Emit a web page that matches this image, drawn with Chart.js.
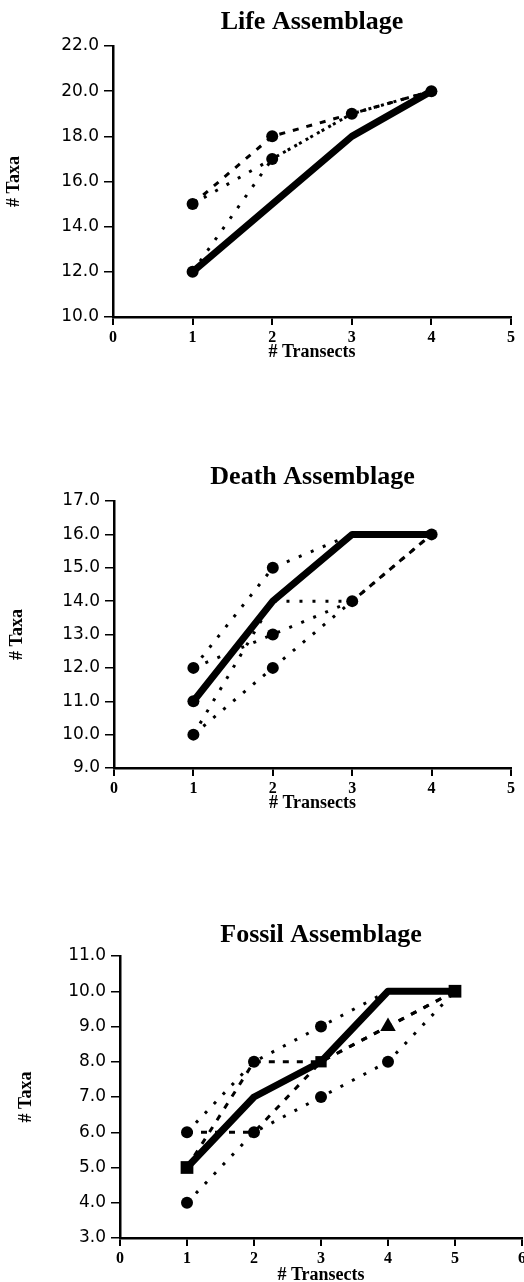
<!DOCTYPE html>
<html>
<head>
<meta charset="utf-8">
<script src="https://cdn.jsdelivr.net/npm/chart.js@4/dist/chart.umd.min.js"></script>
<style>
  html, body { margin: 0; padding: 0; background: #fff; overflow: hidden; }
  #wrap { position: relative; width: 524px; height: 1282px; }
  canvas { position: absolute; left: 0; }
</style>
</head>
<body>
<div id="wrap">
  <canvas id="lifeChart" width="524" height="367" style="top:0px"></canvas>
  <canvas id="deathChart" width="524" height="368" style="top:450px"></canvas>
  <canvas id="fossilChart" width="524" height="386" style="top:900px"></canvas>
</div>
<script>
// # transects (x values)
const lifeTransects = [1, 2, 3, 4];
const deathTransects = [1, 2, 3, 4];
const fossilTransects = [1, 2, 3, 4, 5];

// # taxa - life assemblage
const lifeMean = [12, 15, 18, 20];
const lifeRunA = [15, 18, 19, 20];
const lifeRunB = [12, 17, 19, 20];
const lifeRunC = [15, 17, 19, 20];

// # taxa - death assemblage
const deathMean = [11, 14, 16, 16];
const deathRunA = [12, 15, 16, 16];
const deathRunB = [10, 12, 14, 16];
const deathRunC = [12, 13, 14, 16];
const deathRunD = [10, 14, 14, 16];

// # taxa - fossil assemblage
const fossilMean = [5, 7, 8, 10, 10];
const fossilRunA = [6, 8, 9, 10, 10];
const fossilRunB = [6, 6, 8, 9, 10];
const fossilRunC = [4, 6, 7, 8, 10];
const fossilRunD = [5, 8, 8, 9, 10];

// tick labels
const lifeXTicks = [0, 1, 2, 3, 4, 5];
const lifeYTicks = [10, 12, 14, 16, 18, 20, 22];
const deathXTicks = [0, 1, 2, 3, 4, 5];
const deathYTicks = [9, 10, 11, 12, 13, 14, 15, 16, 17];
const fossilXTicks = [0, 1, 2, 3, 4, 5, 6];
const fossilYTicks = [3, 4, 5, 6, 7, 8, 9, 10, 11];

const serif = 'Liberation Serif, Times New Roman, serif';

const thick = { borderWidth: 7, borderCapStyle: 'round', borderJoinStyle: 'round' };
const dotted = { borderWidth: 3, borderDash: [3, 10] };
const dashed = { borderWidth: 3, borderDash: [6, 8] };

function series(xs, ys, style, radius, shape) {
    return Object.assign({
        data: xs.map((x, i) => ({ x: x, y: ys[i] })),
        borderColor: '#000',
        backgroundColor: '#000',
        pointBackgroundColor: '#000',
        pointBorderColor: '#000',
        pointBorderWidth: 0,
        pointRadius: radius,
        pointStyle: shape || 'circle',
        tension: 0,
        fill: false,
        clip: false
    }, style);
}

function panel(id, o) {
    return new Chart(document.getElementById(id), {
        type: 'line',
        data: { datasets: o.datasets },
        options: {
            responsive: false,
            animation: false,
            devicePixelRatio: 1,
            layout: { autoPadding: false, padding: { left: 0, right: o.padRight, top: 0, bottom: 0 } },
            plugins: {
                legend: { display: false },
                tooltip: { enabled: false },
                title: {
                    display: true,
                    text: o.title,
                    color: '#000',
                    fullSize: false,
                    font: { family: serif, size: 26, weight: 'bold', lineHeight: 1.2 },
                    padding: { top: o.titleTop, bottom: o.titleBottom }
                }
            },
            scales: {
                x: {
                    type: 'linear',
                    min: o.xTicks[0],
                    max: o.xTicks[o.xTicks.length - 1],
                    afterBuildTicks: s => { s.ticks = o.xTicks.map(v => ({ value: v })); },
                    afterFit: s => { s.height = o.xHeight; s.paddingLeft = 0; s.paddingRight = 0; },
                    border: { color: '#000', width: 2.5 },
                    grid: { drawOnChartArea: false, drawTicks: true, tickLength: 8, color: '#000', lineWidth: 2 },
                    ticks: {
                        color: '#000', padding: 3, maxRotation: 0, autoSkip: false,
                        font: { family: serif, size: 16, weight: 'bold' },
                        callback: v => String(v)
                    },
                    title: {
                        display: true, text: '# Transects', color: '#000',
                        font: { family: serif, size: 18, weight: 'bold', lineHeight: 1.2 },
                        padding: { top: 0, bottom: o.xTitleBottom }
                    }
                },
                y: {
                    type: 'linear',
                    min: o.yTicks[0],
                    max: o.yTicks[o.yTicks.length - 1],
                    afterBuildTicks: s => { s.ticks = o.yTicks.map(v => ({ value: v })); },
                    afterFit: s => { s.width = o.yWidth; s.paddingTop = 0; s.paddingBottom = 0; },
                    border: { color: '#000', width: 2.5 },
                    grid: { drawOnChartArea: false, drawTicks: true, tickLength: 9, color: '#000', lineWidth: 1.5 },
                    ticks: {
                        color: '#000', padding: 5, autoSkip: false,
                        font: { family: 'DejaVu Sans', size: 17 },
                        callback: v => Number(v).toFixed(1)
                    },
                    title: {
                        display: true, text: '# Taxa', color: '#000',
                        font: { family: serif, size: 18, weight: 'bold', lineHeight: 1.2 },
                        padding: { top: o.yTitleLeft, bottom: 0 }
                    }
                }
            }
        }
    });
}

panel('lifeChart', {
    title: 'Life Assemblage',
    xTicks: lifeXTicks, yTicks: lifeYTicks,
    padRight: 13, yWidth: 113, xHeight: 50,
    titleTop: 7, titleBottom: 7.8, xTitleBottom: 4.2, yTitleLeft: 4,
    datasets: [
        series(lifeTransects, lifeMean, thick, [6, 0, 0, 6]),
        series(lifeTransects, lifeRunA, dashed, [6, 6, 6, 0]),
        series(lifeTransects, lifeRunB, dotted, [0, 6, 0, 0]),
        series(lifeTransects, lifeRunC, dotted, [0, 0, 0, 0])
    ]
});

panel('deathChart', {
    title: 'Death Assemblage',
    xTicks: deathXTicks, yTicks: deathYTicks,
    padRight: 13, yWidth: 114, xHeight: 50,
    titleTop: 11.4, titleBottom: 8.4, xTitleBottom: 4.2, yTitleLeft: 7,
    datasets: [
        series(deathTransects, deathMean, thick, [6, 0, 0, 6]),
        series(deathTransects, deathRunA, dotted, [6, 6, 0, 0]),
        series(deathTransects, deathRunB, dotted, [6, 6, 6, 0]),
        series(deathTransects, deathRunC, dotted, [0, 6, 0, 0]),
        series(deathTransects, deathRunD, dotted, [0, 0, 0, 0])
    ]
});

panel('fossilChart', {
    title: 'Fossil Assemblage',
    xTicks: fossilXTicks, yTicks: fossilYTicks,
    padRight: 2, yWidth: 120, xHeight: 48,
    titleTop: 19.4, titleBottom: 5.4, xTitleBottom: 0.2, yTitleLeft: 16,
    datasets: [
        series(fossilTransects, fossilMean, thick, [9, 0, 8, 0, 9], 'rect'),
        series(fossilTransects, fossilRunA, dotted, [6, 6, 6, 0, 0]),
        series(fossilTransects, fossilRunB, dashed, [0, 6, 0, 9, 0], ['circle', 'circle', 'circle', 'triangle', 'circle']),
        series(fossilTransects, fossilRunC, dotted, [6, 0, 6, 6, 0]),
        series(fossilTransects, fossilRunD, dashed, [0, 0, 0, 0, 0])
    ]
});
</script>
</body>
</html>
